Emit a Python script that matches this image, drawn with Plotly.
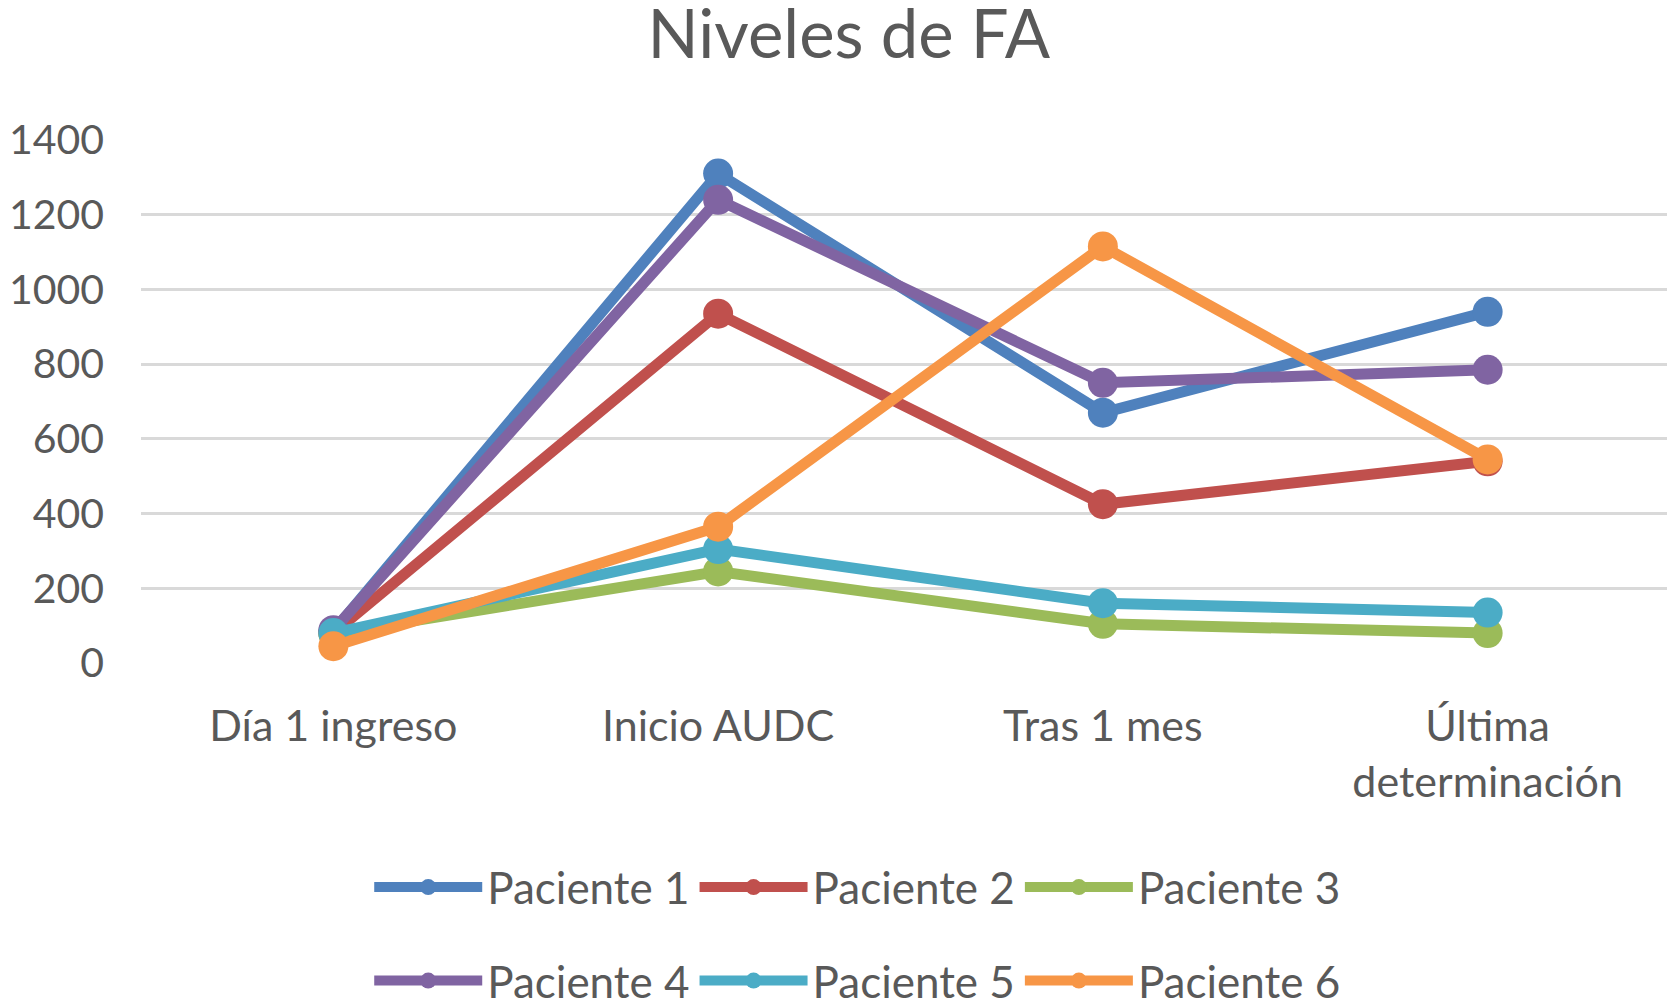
import plotly.graph_objects as go

categories = ["Día 1 ingreso", "Inicio AUDC", "Tras 1 mes", "Última<br>determinación"]
series_names = ["Paciente 1", "Paciente 2", "Paciente 3", "Paciente 4", "Paciente 5", "Paciente 6"]
paciente_1 = [85, 1310, 670, 940]
paciente_2 = [80, 935, 425, 540]
paciente_3 = [78, 245, 105, 80]
paciente_4 = [88, 1240, 750, 785]
paciente_5 = [80, 305, 160, 135]
paciente_6 = [45, 365, 1115, 545]
series_values = [paciente_1, paciente_2, paciente_3, paciente_4, paciente_5, paciente_6]
colors = ["#4F81BD", "#C0504D", "#9BBB59", "#8064A2", "#4BACC6", "#F79646"]
y_ticks = [0, 200, 400, 600, 800, 1000, 1200, 1400]

FONT = "Lato"
TXT = "#595959"

fig = go.Figure()
for i, (name, vals, col) in enumerate(zip(series_names, series_values, colors)):
    fig.add_trace(go.Scatter(
        x=categories, y=vals, name=name, mode="lines+markers",
        line=dict(color=col, width=11),
        marker=dict(color=col, size=30),
        legend="legend" if i < 3 else "legend2",
    ))

legend_common = dict(
    orientation="h", xref="container", yref="container",
    x=0.507, xanchor="center", yanchor="middle",
    font=dict(family=FONT, size=44, color=TXT),
    bgcolor="rgba(0,0,0,0)", itemwidth=108,
)

fig.update_layout(
    width=1675, height=1000,
    paper_bgcolor="white", plot_bgcolor="white",
    margin=dict(l=133, r=3, t=132, b=345),
    title=dict(text="Niveles de FA", x=0.502, xanchor="center", y=0.973, yanchor="middle",
               font=dict(family=FONT, size=67, color=TXT)),
    font=dict(family=FONT, color=TXT),
    showlegend=True,
    legend=dict(**legend_common, y=0.1205),
    legend2=dict(**legend_common, y=0.027),
)
fig.update_xaxes(
    type="category", range=[-0.5, 3.5], showgrid=False, zeroline=False,
    showline=False, ticks="", ticklabelstandoff=34,
    tickfont=dict(family=FONT, size=43, color=TXT),
)
fig.update_yaxes(
    range=[0, 1400], tickvals=y_ticks, showgrid=True, gridcolor="#D9D9D9", gridwidth=3,
    zeroline=False, showline=False, ticks="", ticklabelstandoff=36, automargin=False,
    tickfont=dict(family=FONT, size=41, color=TXT),
)

fig.write_html("out.html")
